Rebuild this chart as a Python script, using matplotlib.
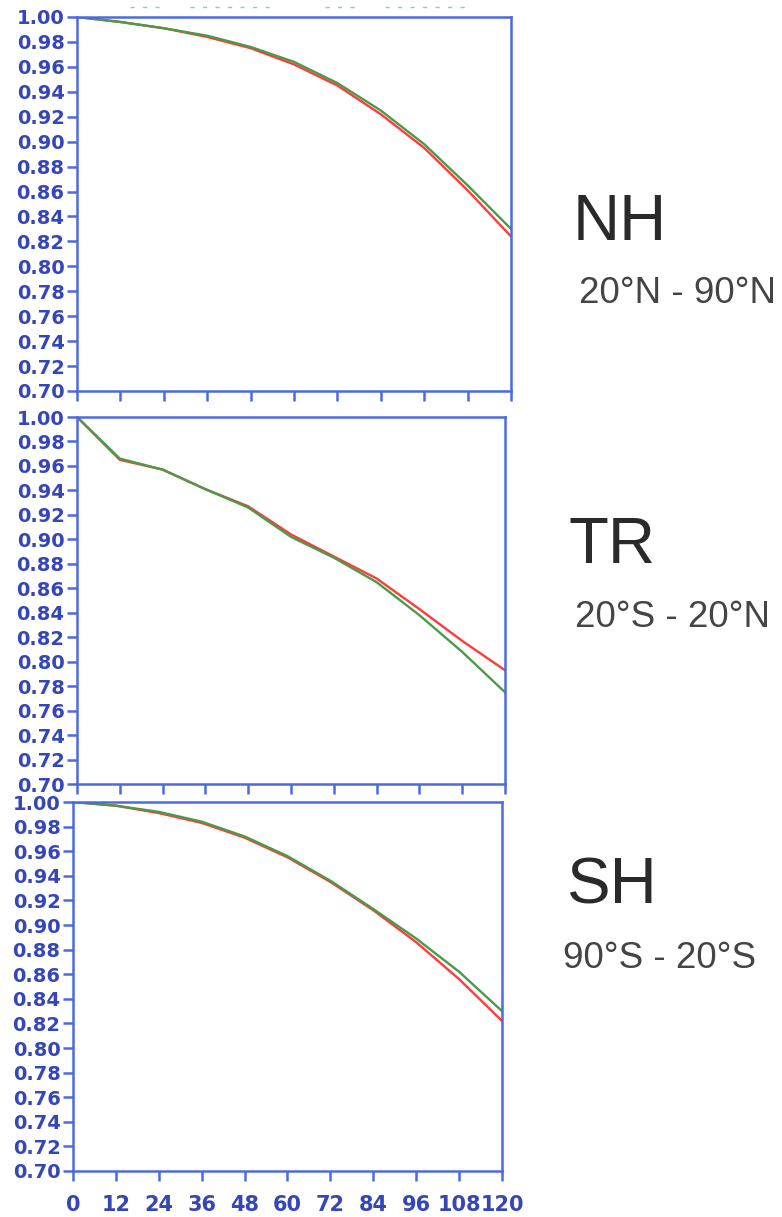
import numpy as np
import matplotlib
matplotlib.use('Agg')
import matplotlib.pyplot as plt
from matplotlib.lines import Line2D

# Forecast hours
hours = [0, 12, 24, 36, 48, 60, 72, 84, 96, 108, 120]

# Anomaly correlation per region (red / green experiment)
nh_red = [1.000, 0.996, 0.991, 0.984, 0.975, 0.962, 0.945, 0.922, 0.895, 0.861, 0.824]
nh_green = [1.000, 0.996, 0.991, 0.985, 0.976, 0.964, 0.947, 0.925, 0.898, 0.865, 0.830]
tr_red = [1.000, 0.965, 0.957, 0.941, 0.927, 0.904, 0.886, 0.868, 0.843, 0.817, 0.793]
tr_green = [1.000, 0.966, 0.957, 0.941, 0.926, 0.902, 0.885, 0.865, 0.838, 0.808, 0.775]
sh_red = [1.000, 0.997, 0.991, 0.983, 0.971, 0.955, 0.935, 0.912, 0.886, 0.856, 0.822]
sh_green = [1.000, 0.997, 0.992, 0.984, 0.972, 0.956, 0.936, 0.913, 0.889, 0.862, 0.830]

regions = ['NH', 'TR', 'SH']
ranges = ['20°N - 90°N', '20°S - 20°N', '90°S - 20°S']

axis_blue = '#4a6ae0'
label_blue = '#3546b8'

fig = plt.figure(figsize=(7.82, 12.17), dpi=100)
H = 1217.0
W = 782.0

# panel boxes in pixels: left, right, top, bottom
boxes = [(77, 511, 17, 391), (77, 505, 417, 784), (73, 502, 802, 1171)]
series = [(nh_red, nh_green), (tr_red, tr_green), (sh_red, sh_green)]
name_pos = [((573, 240), (579, 303)), ((568, 563), (575, 627)), ((567, 903), (563, 968))]

for i, (l, r, t, b) in enumerate(boxes):
    ax = fig.add_axes([l / W, 1 - b / H, (r - l) / W, (b - t) / H])
    red, green = series[i]
    ax.plot(hours, red, color='#ff3b3b', lw=1.7)
    ax.plot(hours, green, color='#4a9a4a', lw=1.7)
    ax.set_xlim(0, 120)
    ax.set_ylim(0.70, 1.00)
    ax.set_xticks(hours)
    ax.set_yticks(np.arange(0.70, 1.001, 0.02))
    ax.set_yticklabels(['%.2f' % v for v in np.arange(0.70, 1.001, 0.02)])
    for s in ax.spines.values():
        s.set_color(axis_blue)
        s.set_linewidth(1.8)
    ax.tick_params(axis='both', colors=axis_blue, width=1.8, length=7,
                   direction='out', labelcolor=label_blue, labelsize=14)
    ax.tick_params(axis='y', pad=2)
    ax.tick_params(axis='x', pad=10, labelsize=15)
    if i < 2:
        ax.set_xticklabels([])
    else:
        ax.set_xticklabels([str(h) for h in hours])
    for lab in ax.get_yticklabels() + ax.get_xticklabels():
        lab.set_fontweight('bold')
        lab.set_family('DejaVu Sans')

    (nx, ny), (sx, sy) = name_pos[i]
    fig.text(nx / W, 1 - ny / H, regions[i], fontsize=47, color='#2a2a2a',
             family='Liberation Sans', ha='left', va='baseline')
    fig.text(sx / W, 1 - sy / H, ranges[i], fontsize=26.5, color='#444444',
             family='Liberation Sans', ha='left', va='baseline')

# faint dashed legend remnants along the top edge
for x0, x1 in [(130, 162), (190, 272), (325, 357), (385, 465)]:
    fig.add_artist(Line2D([x0 / W, x1 / W], [1 - 7 / H, 1 - 7 / H], color='#8ec6d6',
                          lw=1, ls=(0, (3, 6))))

fig.savefig('out.png', dpi=100)
